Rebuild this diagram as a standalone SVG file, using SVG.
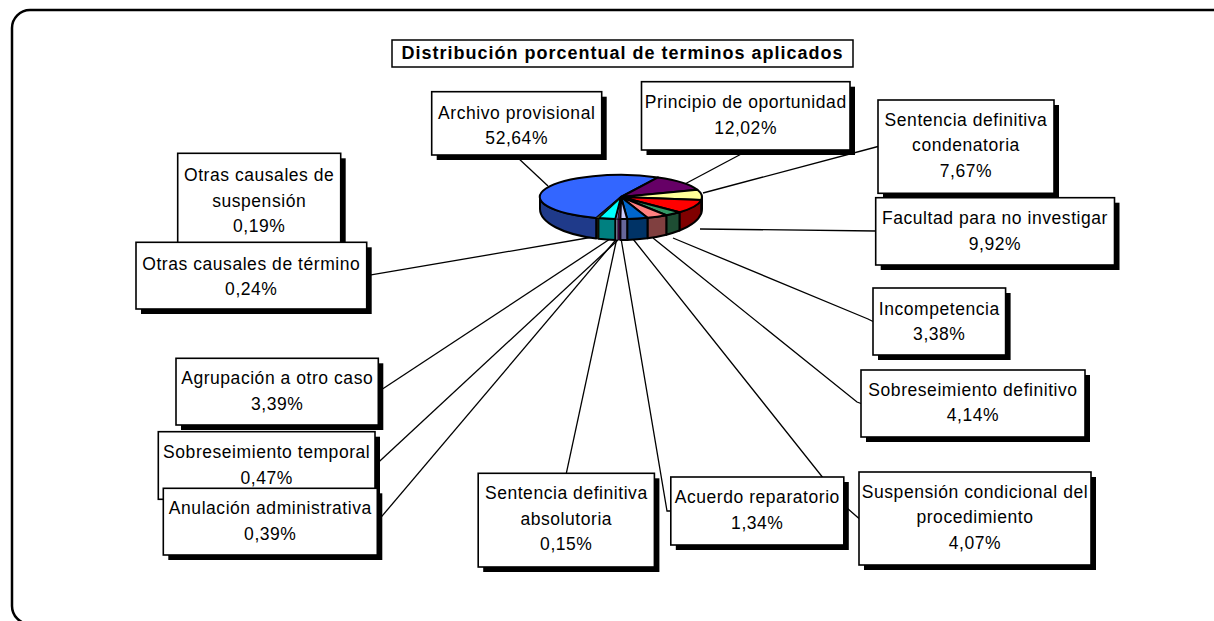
<svg xmlns="http://www.w3.org/2000/svg" width="1214" height="621" viewBox="0 0 1214 621">
<style>
.frame{fill:#fff;stroke:#000;stroke-width:2.5}
.box{fill:#fff;stroke:#000;stroke-width:1.6}
.sh{fill:#000}
.t{font-family:"Liberation Sans",Arial,sans-serif;font-size:17.5px;letter-spacing:0.55px;text-anchor:middle;fill:#000}
.title{font-size:18px;font-weight:bold;letter-spacing:1px}
.ln{fill:none;stroke:#000;stroke-width:1.3}
.pie path{stroke:#000;stroke-width:2;stroke-linejoin:round}
.pie path.thin{stroke-width:0.8}
</style>
<rect class="frame" x="12" y="10" width="1230" height="614" rx="18" ry="18"/>

<g id="connectors">
<path class="ln" d="M517,157 L548,186"/>
<path class="ln" d="M745,152 L683,185"/>
<path class="ln" d="M878,146.5 L703,193"/>
<path class="ln" d="M876,231 L700,229"/>
<path class="ln" d="M873,321.5 L868,319 L673,238"/>
<path class="ln" d="M861,403.5 L857,402 L653,238"/>
<path class="ln" d="M859,518.5 L847,508 L633,239"/>
<path class="ln" d="M670.8,511 L667,511 L621.3,240"/>
<path class="ln" d="M566.3,473.3 L616.5,240"/>
<path class="ln" d="M377.3,521.7 L615.7,240"/>
<path class="ln" d="M375,465.5 L618,240"/>
<path class="ln" d="M378.3,391.7 L610,239"/>
<path class="ln" d="M366.7,275.7 L593,237"/>
</g>

<g id="pie" class="pie">
<path fill="#A0A060" d="M702,197 A81,22 0 0 1 701.2,200.1 L701.2,213.4 A81,31 0 0 0 702,209 Z"/>
<path fill="#800000" d="M701.2,200.1 A81,22 0 0 1 679.5,212.2 L679.5,230.5 A81,31 0 0 0 701.2,213.4 Z"/>
<path fill="#1E4D33" d="M679.5,212.2 A81,22 0 0 1 666.3,215.2 L666.3,234.7 A81,31 0 0 0 679.5,230.5 Z"/>
<path fill="#804040" d="M666.3,215.2 A81,22 0 0 1 647.5,217.8 L647.5,238.3 A81,31 0 0 0 666.3,234.7 Z"/>
<path fill="#003366" d="M647.5,217.8 A81,22 0 0 1 627.2,218.9 L627.2,239.9 A81,31 0 0 0 647.5,238.3 Z"/>
<path fill="#666699" d="M627.2,218.9 A81,22 0 0 1 620.4,219 L620.4,240 A81,31 0 0 0 627.2,239.9 Z"/>
<path class="thin" fill="#800080" d="M620.4,219 A81,22 0 0 1 619.7,219 L619.7,240 A81,31 0 0 0 620.4,240 Z"/>
<path class="thin" fill="#660066" d="M619.7,219 A81,22 0 0 1 617.8,219 L617.8,240 A81,31 0 0 0 619.7,240 Z"/>
<path class="thin" fill="#A0A0C8" d="M617.8,219 A81,22 0 0 1 615.3,218.9 L615.3,239.9 A81,31 0 0 0 617.8,240 Z"/>
<path fill="#008080" d="M615.3,218.9 A81,22 0 0 1 598.4,218.1 L598.4,238.8 A81,31 0 0 0 615.3,239.9 Z"/>
<path class="thin" fill="#808000" d="M598.4,218.1 A81,22 0 0 1 597.2,218 L597.2,238.6 A81,31 0 0 0 598.4,238.8 Z"/>
<path class="thin" fill="#404040" d="M597.2,218 A81,22 0 0 1 596.2,217.9 L596.2,238.5 A81,31 0 0 0 597.2,238.6 Z"/>
<path fill="#1F3A8A" d="M596.2,217.9 A81,22 0 0 1 540,197 L540,209 A81,31 0 0 0 596.2,238.5 Z"/>

<path fill="#3366FF" d="M621,197 L596.2,217.9 A81,22 0 1 1 658,177.4 Z"/>
<path fill="#660066" d="M621,197 L658,177.4 A81,22 0 0 1 697.4,189.7 Z"/>
<path fill="#FFFF99" d="M621,197 L697.4,189.7 A81,22 0 0 1 701.2,200.1 Z"/>
<path fill="#FF0000" d="M621,197 L701.2,200.1 A81,22 0 0 1 679.5,212.2 Z"/>
<path fill="#339966" d="M621,197 L679.5,212.2 A81,22 0 0 1 666.3,215.2 Z"/>
<path fill="#FF8080" d="M621,197 L666.3,215.2 A81,22 0 0 1 647.5,217.8 Z"/>
<path fill="#0066CC" d="M621,197 L647.5,217.8 A81,22 0 0 1 627.2,218.9 Z"/>
<path fill="#CCCCFF" d="M621,197 L627.2,218.9 A81,22 0 0 1 620.4,219 Z"/>
<path class="thin" fill="#FF00FF" d="M621,197 L620.4,219 A81,22 0 0 1 619.7,219 Z"/>
<path class="thin" fill="#993366" d="M621,197 L619.7,219 A81,22 0 0 1 617.8,219 Z"/>
<path class="thin" fill="#9999FF" d="M621,197 L617.8,219 A81,22 0 0 1 615.3,218.9 Z"/>
<path fill="#00FFFF" d="M621,197 L615.3,218.9 A81,22 0 0 1 598.4,218.1 Z"/>
<path class="thin" fill="#FFFF00" d="M621,197 L598.4,218.1 A81,22 0 0 1 597.2,218 Z"/>
<path class="thin" fill="#C0C0C0" d="M621,197 L597.2,218 A81,22 0 0 1 596.2,217.9 Z"/>
</g>

<g id="title">
<rect class="box" x="392" y="40" width="461" height="27" style="stroke-width:1.5"/>
<text class="t title" x="622.5" y="59">Distribución porcentual de terminos aplicados</text>
</g>

<g id="archivo">
<rect class="sh" x="436.7" y="96.7" width="170" height="63.3"/>
<rect class="box" x="431.7" y="91.7" width="170" height="63.3"/>
<text class="t" x="516.7" y="118.5">Archivo provisional</text>
<text class="t" x="516.7" y="143.5">52,64%</text>
</g>

<g id="principio">
<rect class="sh" x="646.5" y="86.7" width="208.5" height="68.3"/>
<rect class="box" x="641.5" y="81.7" width="208.5" height="68.3"/>
<text class="t" x="745.7" y="108">Principio de oportunidad</text>
<text class="t" x="745.7" y="133.5">12,02%</text>
</g>

<g id="condenatoria">
<rect class="sh" x="883" y="105" width="176" height="93.3"/>
<rect class="box" x="878" y="100" width="176" height="93.3"/>
<text class="t" x="966" y="125.5">Sentencia definitiva</text>
<text class="t" x="966" y="151">condenatoria</text>
<text class="t" x="966" y="176.5">7,67%</text>
</g>

<g id="facultad">
<rect class="sh" x="880.7" y="202.7" width="238.8" height="67.3"/>
<rect class="box" x="875.7" y="197.7" width="238.8" height="67.3"/>
<text class="t" x="995" y="224">Facultad para no investigar</text>
<text class="t" x="995" y="249.5">9,92%</text>
</g>

<g id="incompetencia">
<rect class="sh" x="878" y="293" width="132.6" height="67"/>
<rect class="box" x="873" y="288" width="132.6" height="67"/>
<text class="t" x="939.3" y="314.5">Incompetencia</text>
<text class="t" x="939.3" y="340">3,38%</text>
</g>

<g id="sobreseimiento-definitivo">
<rect class="sh" x="866" y="375" width="224" height="67"/>
<rect class="box" x="861" y="370" width="224" height="67"/>
<text class="t" x="973" y="395.5">Sobreseimiento definitivo</text>
<text class="t" x="973" y="421">4,14%</text>
</g>

<g id="suspension-condicional">
<rect class="sh" x="864" y="477" width="232" height="93"/>
<rect class="box" x="859" y="472" width="232" height="93"/>
<text class="t" x="975" y="497.5">Suspensión condicional del</text>
<text class="t" x="975" y="523">procedimiento</text>
<text class="t" x="975" y="548.5">4,07%</text>
</g>

<g id="acuerdo">
<rect class="sh" x="675.8" y="482" width="173" height="68"/>
<rect class="box" x="670.8" y="477" width="173" height="68"/>
<text class="t" x="757.3" y="503">Acuerdo reparatorio</text>
<text class="t" x="757.3" y="528.5">1,34%</text>
</g>

<g id="absolutoria">
<rect class="sh" x="483.2" y="478.3" width="176.2" height="93.7"/>
<rect class="box" x="478.2" y="473.3" width="176.2" height="93.7"/>
<text class="t" x="566.3" y="499">Sentencia definitiva</text>
<text class="t" x="566.3" y="524.5">absolutoria</text>
<text class="t" x="566.3" y="550">0,15%</text>
</g>

<g id="sobreseimiento-temporal">
<rect class="sh" x="163.3" y="436.7" width="216.7" height="67.6"/>
<rect class="box" x="158.3" y="431.7" width="216.7" height="67.6"/>
<text class="t" x="266.7" y="458">Sobreseimiento temporal</text>
<text class="t" x="266.7" y="483.5">0,47%</text>
</g>

<g id="anulacion">
<rect class="sh" x="168.3" y="493.3" width="214" height="66.7"/>
<rect class="box" x="163.3" y="488.3" width="214" height="66.7"/>
<text class="t" x="270.3" y="514">Anulación administrativa</text>
<text class="t" x="270.3" y="539.5">0,39%</text>
</g>

<g id="agrupacion">
<rect class="sh" x="181" y="363.3" width="202.3" height="66.7"/>
<rect class="box" x="176" y="358.3" width="202.3" height="66.7"/>
<text class="t" x="277.2" y="384">Agrupación a otro caso</text>
<text class="t" x="277.2" y="409.5">3,39%</text>
</g>

<g id="otras-suspension">
<rect class="sh" x="182.7" y="158.3" width="163" height="95"/>
<rect class="box" x="177.7" y="153.3" width="163" height="95"/>
<text class="t" x="259.2" y="181">Otras causales de</text>
<text class="t" x="259.2" y="206.5">suspensión</text>
<text class="t" x="259.2" y="232">0,19%</text>
</g>

<g id="otras-termino">
<rect class="sh" x="141" y="247.3" width="230.7" height="66.7"/>
<rect class="box" x="136" y="242.3" width="230.7" height="66.7"/>
<text class="t" x="251.3" y="269.5">Otras causales de término</text>
<text class="t" x="251.3" y="295">0,24%</text>
</g>
</svg>
